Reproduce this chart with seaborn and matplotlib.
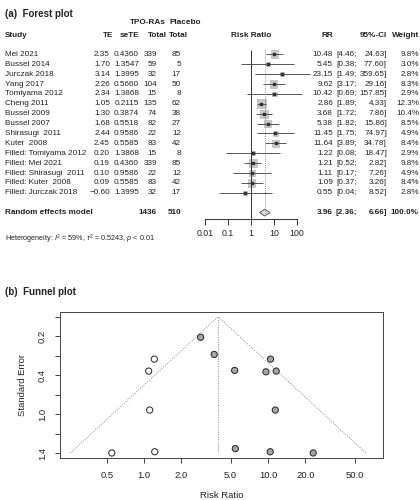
import numpy as np
import pandas as pd
import seaborn as sns
import matplotlib.pyplot as plt
import matplotlib.transforms as mtransforms

# study data
studies = ["Mei 2021", "Bussel 2014", "Jurczak 2018", "Yang 2017", "Tomiyama 2012",
           "Cheng 2011", "Bussel 2009", "Bussel 2007", "Shirasugi  2011", "Kuter  2008",
           "Filled: Tomiyama 2012", "Filled: Mei 2021", "Filled: Shirasugi  2011",
           "Filled: Kuter  2008", "Filled: Jurczak 2018"]
te = [2.35, 1.70, 3.14, 2.26, 2.34, 1.05, 1.30, 1.68, 2.44, 2.45, 0.20, 0.19, 0.10, 0.09, -0.60]
sete = [0.4360, 1.3547, 1.3995, 0.5660, 1.3868, 0.2115, 0.3874, 0.5518, 0.9586, 0.5585,
        1.3868, 0.4360, 0.9586, 0.5585, 1.3995]
n_tpo = [339, 59, 32, 104, 15, 135, 74, 82, 22, 83, 15, 339, 22, 83, 32]
n_pla = [85, 5, 17, 50, 8, 62, 38, 27, 12, 42, 8, 85, 12, 42, 17]
rr = [10.48, 5.45, 23.15, 9.62, 10.42, 2.86, 3.68, 5.38, 11.45, 11.64, 1.22, 1.21, 1.11, 1.09, 0.55]
ci_lo = [4.46, 0.38, 1.49, 3.17, 0.69, 1.89, 1.72, 1.82, 1.75, 3.89, 0.08, 0.52, 0.17, 0.37, 0.04]
ci_hi = [24.63, 77.60, 359.65, 29.16, 157.85, 4.33, 7.86, 15.86, 74.97, 34.78,
         18.47, 2.82, 7.26, 3.26, 8.52]
weight = [9.8, 3.0, 2.8, 8.3, 2.9, 12.3, 10.4, 8.5, 4.9, 8.4, 2.9, 9.8, 4.9, 8.4, 2.8]
kind = ["observed"] * 10 + ["filled"] * 5

# random effects summary
pooled_rr, pooled_lo, pooled_hi = 3.96, 2.36, 6.66
total_tpo, total_pla = 1436, 510

forest_ticks = [0.01, 0.1, 1, 10, 100]
forest_ticklabels = ["0.01", "0.1", "1", "10", "100"]
funnel_xticks = [0.5, 1, 2, 5, 10, 20, 50]
funnel_xticklabels = ["0.5", "1.0", "2.0", "5.0", "10.0", "20.0", "50.0"]
funnel_yticks = [0, 0.2, 0.4, 0.6, 0.8, 1.0, 1.2, 1.4]
funnel_yticklabels = ["", "0.2", "", "0.4", "", "1.0", "", "1.4"]

df = pd.DataFrame({"study": studies, "te": te, "sete": sete, "rr": rr,
                   "lo": ci_lo, "hi": ci_hi, "weight": weight, "kind": kind})
df["row"] = np.arange(len(df))

sns.set_style("white")
plt.rcParams['font.family'] = ['Liberation Sans', 'DejaVu Sans']
plt.rcParams['mathtext.fontset'] = 'custom'
plt.rcParams['mathtext.rm'] = 'Liberation Sans'
plt.rcParams['mathtext.it'] = 'Liberation Sans:italic'

TXT = "#222222"
W, H = 420, 500
fig = plt.figure(figsize=(4.2, 5.0), dpi=100)

def fx(p):
    return p / W

def fy(p):
    return 1 - p / H

# ---------- (a) forest plot ----------
ax1 = fig.add_axes([fx(205), fy(219), fx(92), (219 - 48.4) / H])
ax1.set_xscale("log")
ax1.set_xlim(0.01, 100)
ax1.set_ylim(16.65, -0.6)

ax1.hlines(df["row"], df["lo"], df["hi"], color="#555555", lw=0.7, clip_on=False)
sns.scatterplot(data=df, x="rr", y="row", size="weight", sizes=(9, 40), marker="s",
                color="#c8c8c8", edgecolor="#aaaaaa", linewidth=0.4, legend=False,
                ax=ax1, clip_on=False)
ax1.scatter(df["rr"], df["row"], s=1.5, marker="s", color="#333333", zorder=3)
ax1.vlines(1, -0.45, 16.65, color="#333333", lw=0.7)
ax1.vlines(pooled_rr, -0.45, 16.3, color="#777777", lw=0.6, linestyles=(0, (1, 1.5)))
ax1.fill([pooled_lo, pooled_rr, pooled_hi, pooled_rr], [16, 15.65, 16, 16.35],
         facecolor="#dddddd", edgecolor="#444444", lw=0.6)

for s in ["top", "left", "right"]:
    ax1.spines[s].set_visible(False)
ax1.spines["bottom"].set_bounds(0.01, 100)
ax1.spines["bottom"].set_color("#333333")
ax1.spines["bottom"].set_linewidth(0.7)
ax1.set_xticks(forest_ticks)
ax1.set_xticklabels(forest_ticklabels)
ax1.minorticks_off()
ax1.tick_params(axis="x", bottom=True, direction="out", length=4.5, width=0.7,
                color="#333333", labelsize=6.3, labelcolor=TXT, pad=3)
ax1.set_yticks([])
ax1.set_xlabel("")
ax1.set_ylabel("")

tr = mtransforms.blended_transform_factory(fig.transFigure, ax1.transData)
fs = 5.9

def put(x, row, s, ha="right", bold=False):
    fig.text(fx(x), row, s, transform=tr, ha=ha, va="center", fontsize=fs,
             color=TXT, fontweight="bold" if bold else "normal")

# headers
put(148, -3.2, "TPO-RAs", ha="center", bold=True)
put(185, -3.2, "Placebo", ha="center", bold=True)
put(5, -1.95, "Study", ha="left", bold=True)
put(113, -1.95, "TE", bold=True)
put(139, -1.95, "seTE", bold=True)
put(167, -1.95, "Total", bold=True)
put(188, -1.95, "Total", bold=True)
put(251, -1.95, "Risk Ratio", ha="center", bold=True)
put(333, -1.95, "RR", bold=True)
put(387, -1.95, "95%-CI", bold=True)
put(419, -1.95, "Weight", bold=True)

for _, r in df.iterrows():
    i = r["row"]
    put(5, i, r["study"], ha="left")
    put(110, i, f"{r['te']:.2f}".replace("-", "\u2212"))
    put(139, i, f"{r['sete']:.4f}")
    put(157, i, f"{n_tpo[i]}")
    put(181, i, f"{n_pla[i]}")
    put(333, i, f"{r['rr']:.2f}")
    put(357, i, f"[{r['lo']:.2f};")
    put(387, i, f"{r['hi']:.2f}]")
    put(419, i, f"{r['weight']:.1f}%")

put(5, 16, "Random effects model", ha="left", bold=True)
put(157, 16, f"{total_tpo}", bold=True)
put(181, 16, f"{total_pla}", bold=True)
put(333, 16, f"{pooled_rr:.2f}", bold=True)
put(357, 16, f"[{pooled_lo:.2f};", bold=True)
put(387, 16, f"{pooled_hi:.2f}]", bold=True)
put(419, 16, "100.0%", bold=True)

fig.text(fx(5), fy(239), r"Heterogeneity: $I^2$ = 59%, $\tau^2$ = 0.5243, $p$ < 0.01",
         ha="left", va="center", fontsize=5.2, color=TXT)

fig.text(fx(5), fy(14), "(a)  Forest plot", ha="left", va="center", fontsize=7,
         fontweight="bold", color=TXT)

# ---------- (b) funnel plot ----------
fig.text(fx(5), fy(292), "(b)  Funnel plot", ha="left", va="center", fontsize=7,
         fontweight="bold", color=TXT)

ax2 = fig.add_axes([fx(60), fy(458), fx(323), 146 / H])
ax2.set_xscale("log")
ax2.set_xlim(0.21, 84.6)
ax2.set_ylim(1.451, -0.048)

se_max = max(funnel_yticks)
left_end = pooled_rr * np.exp(-1.96 * se_max)
right_end = pooled_rr * np.exp(1.96 * se_max)
ax2.plot([left_end, pooled_rr, right_end], [se_max, 0, se_max], color="#888888",
         lw=0.7, linestyle=(0, (1, 1.5)))
ax2.vlines(pooled_rr, 0, se_max, color="#888888", lw=0.7, linestyles=(0, (1, 1.5)))

sns.scatterplot(data=df, x="rr", y="sete", hue="kind",
                palette={"observed": "#a6a6a6", "filled": "white"},
                edgecolor="#222222", linewidth=0.7, s=20, legend=False, ax=ax2,
                zorder=3, clip_on=False)

for s in ax2.spines.values():
    s.set_color("#444444")
    s.set_linewidth(0.7)
ax2.set_xticks(funnel_xticks)
ax2.set_xticklabels(funnel_xticklabels)
ax2.minorticks_off()
ax2.set_yticks(funnel_yticks)
ax2.set_yticklabels(funnel_yticklabels, rotation=90, va="center")
ax2.tick_params(axis="both", bottom=True, left=True, direction="out", length=3.5,
                width=0.7, color="#444444", labelsize=6.8, labelcolor=TXT)
ax2.tick_params(axis="x", pad=6)
ax2.tick_params(axis="y", pad=6)
ax2.set_xlabel("Risk Ratio", fontsize=6.8, color=TXT, labelpad=8)
ax2.set_ylabel("Standard Error", fontsize=6.8, color=TXT, labelpad=8)

fig.savefig("out.png", dpi=100)
